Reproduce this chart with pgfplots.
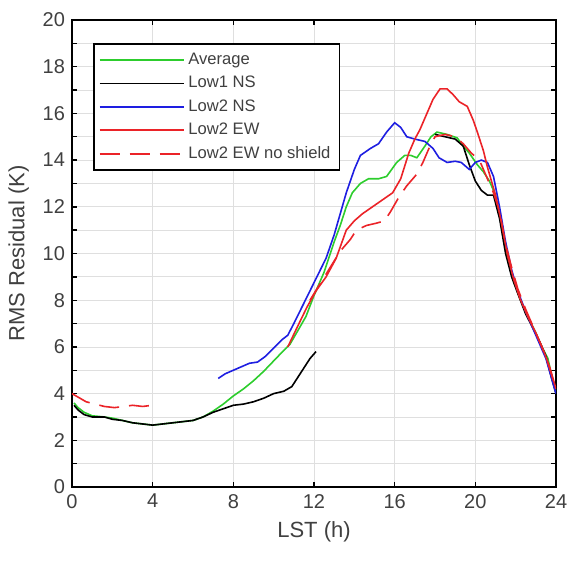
\documentclass[border=0pt]{standalone}
\usepackage{pgfplots}
\pgfplotsset{compat=1.18}
\usepackage{fontspec}
\setmainfont{Liberation Sans}
\definecolor{cgreen}{RGB}{45,205,45}
\definecolor{cblue}{RGB}{30,30,225}
\definecolor{cred}{RGB}{235,35,40}
\begin{document}
\begin{tikzpicture}
\begin{axis}[
  name=ax,
  scale only axis,
  width=242pt, height=233.5pt,
  xmin=0, xmax=24, ymin=0, ymax=20,
  xtick={0,4,...,24},
  ytick={0,2,...,20},
  minor ytick={1,3,...,19},
  grid=both,
  major grid style={gray!25, line width=0.4pt},
  minor grid style={gray!25, line width=0.4pt},
  tick align=inside,
  major tick length=2.5pt,
  minor tick length=2.5pt,
  tick style={black, line width=0.7pt},
  axis line style={black, line width=0.9pt},
  /pgf/number format/assume math mode=true,
  ticklabel style={font=\fontsize{10}{12}\selectfont, text=black!75},
  label style={font=\fontsize{11}{13}\selectfont, text=black!75},
  xlabel={LST (h)},
  ylabel={RMS Residual (K)},
  legend cell align=left,
  legend image code/.code={\draw[#1] (0pt,0pt) -- (42pt,0pt);},
  legend style={at={(0.0434,0.9507)}, anchor=north west, draw=black, line width=0.8pt,
    font=\fontsize{8.3}{10}\selectfont, text=black!75, row sep=0.4pt, inner sep=2.5pt, fill=white},
  every axis plot/.append style={line width=0.8pt},
]
% Average
\addplot[cgreen] coordinates {
(0.1,3.6) (0.3,3.4) (0.6,3.2) (1.0,3.05) (1.6,3.0) (2.0,2.95) (2.5,2.85) (3.0,2.75)
(3.5,2.7) (4.0,2.65) (4.5,2.7) (5.0,2.75) (5.5,2.8) (6.0,2.85) (6.5,3.0) (7.0,3.25)
(7.5,3.55) (8.0,3.9) (8.5,4.2) (9.0,4.55) (9.5,4.95) (10.0,5.4) (10.5,5.85) (10.8,6.1)
(11.2,6.7) (11.6,7.3) (12.0,8.2) (12.5,9.2) (13.0,10.5) (13.3,11.2) (13.6,12.0) (13.9,12.6)
(14.3,13.0) (14.7,13.2) (15.2,13.2) (15.6,13.3) (16.1,13.9) (16.5,14.2) (16.8,14.2) (17.1,14.1)
(17.5,14.6) (17.8,15.0) (18.1,15.2) (18.6,15.1) (19.1,14.95) (19.4,14.6) (19.7,14.3) (20.1,13.8)
(20.4,13.5) (20.7,13.1) (21.0,12.5) (21.3,11.2) (21.6,9.8) (21.9,8.8) (22.2,8.1) (22.6,7.3)
(23.0,6.6) (23.3,6.0) (23.6,5.5) (23.8,4.7) (24.0,4.1)
};
\addlegendentry{Average}
% Low1 NS
\addplot[black] coordinates {
(0.1,3.5) (0.3,3.3) (0.6,3.1) (1.0,3.0) (1.6,3.0) (2.0,2.9) (2.5,2.85) (3.0,2.75)
(3.5,2.7) (4.0,2.65) (4.5,2.7) (5.0,2.75) (5.5,2.8) (6.0,2.85) (6.5,3.0) (7.0,3.2)
(7.5,3.35) (8.0,3.5) (8.5,3.55) (9.0,3.65) (9.5,3.8) (10.0,4.0) (10.5,4.1) (10.9,4.3)
(11.2,4.7) (11.5,5.1) (11.8,5.5) (12.1,5.8)
};
\addlegendentry{Low1 NS}
\addplot[black, forget plot] coordinates {
(18.0,15.1) (18.5,15.0) (19.0,14.9) (19.4,14.6) (19.7,13.8) (20.0,13.1) (20.3,12.7) (20.6,12.5)
(20.9,12.5) (21.2,11.5) (21.5,10.0) (21.8,9.0) (22.1,8.3) (22.5,7.4) (22.8,6.9) (23.2,6.2)
(23.5,5.6) (23.8,4.6) (24.0,4.0)
};
% Low2 NS
\addplot[cblue] coordinates {
(7.25,4.65) (7.6,4.85) (8.0,5.0) (8.4,5.15) (8.8,5.3) (9.2,5.35) (9.6,5.6) (10.0,5.95)
(10.4,6.3) (10.7,6.5) (11.0,7.0) (11.4,7.7) (11.8,8.4) (12.2,9.1) (12.6,9.8) (13.0,10.8)
(13.4,12.0) (13.6,12.6) (14.0,13.6) (14.3,14.2) (14.8,14.5) (15.2,14.7) (15.6,15.2) (16.0,15.6)
(16.3,15.4) (16.6,15.0) (17.0,14.9) (17.5,14.8) (17.9,14.5) (18.2,14.1) (18.6,13.9) (19.0,13.95)
(19.3,13.9) (19.7,13.6) (20.0,13.9) (20.3,14.0) (20.6,13.9) (20.9,13.3) (21.2,12.0) (21.5,10.5)
(21.8,9.3) (22.1,8.4) (22.5,7.5) (22.8,6.9) (23.2,6.1) (23.5,5.5) (23.8,4.6) (24.0,4.0)
};
\addlegendentry{Low2 NS}
% Low2 EW
\addplot[cred] coordinates {
(10.7,6.0) (11.2,6.9) (11.65,7.7) (12.1,8.4) (12.6,9.0) (13.1,9.8) (13.6,11.0) (14.0,11.4)
(14.4,11.7) (14.9,12.0) (15.4,12.3) (15.9,12.6) (16.3,13.2) (16.7,14.3) (17.0,14.9) (17.25,15.3)
(17.6,16.0) (17.9,16.6) (18.25,17.05) (18.6,17.05) (18.9,16.8) (19.2,16.5) (19.6,16.3) (19.9,15.7)
(20.1,15.2) (20.4,14.4) (20.6,13.7) (21.0,12.5) (21.3,11.3) (21.6,9.9) (21.9,8.9) (22.2,8.1)
(22.6,7.3) (23.0,6.6) (23.4,5.8) (23.7,5.1) (24.0,4.2)
};
\addlegendentry{Low2 EW}
% Low2 EW no shield
\addplot[cred, dash pattern=on 10pt off 5pt] coordinates {
(0.0,4.0) (0.3,3.85) (0.7,3.65) (1.15,3.55) (1.6,3.45) (2.1,3.4) (2.6,3.45) (3.0,3.5)
(3.5,3.45) (4.0,3.5) (4.1,3.5)
};
\addlegendentry{Low2 EW no shield}
\addplot[cred, dash pattern=on 10pt off 5pt, forget plot] coordinates {
(11.8,8.0) (12.3,8.7) (12.8,9.4) (13.3,10.1) (13.8,10.6) (14.1,11.0) (14.6,11.2) (15.1,11.3)
(15.5,11.4) (15.8,11.8) (16.2,12.4) (16.6,12.9) (17.1,13.4) (17.4,13.9) (17.7,14.5) (18.0,15.0)
(18.5,15.1) (19.0,15.0) (19.4,14.7) (19.8,14.3) (20.2,14.0) (20.6,13.2) (20.9,12.6) (21.2,11.8)
(21.5,10.4) (21.8,9.4) (22.1,8.5) (22.5,7.6) (22.9,6.8) (23.3,6.0) (23.6,5.3) (24.0,4.2)
};
\end{axis}
\path ([xshift=-36pt,yshift=-37.5pt]ax.south west) rectangle ([xshift=10.5pt,yshift=10pt]ax.north east);
\end{tikzpicture}
\end{document}
